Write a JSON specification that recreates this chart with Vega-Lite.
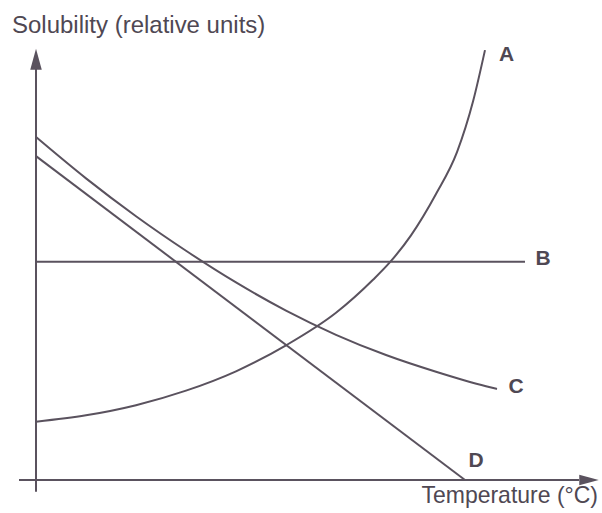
{
  "$schema": "https://vega.github.io/schema/vega-lite/v6.json",
  "autosize": "none",
  "width": 585,
  "height": 453.2,
  "padding": {"left": 16, "top": 40, "right": 1, "bottom": 20},
  "background": "white",
  "config": {"view": {"stroke": null}},
  "datasets": {
    "curves": [
      {"series": "A", "t": 0, "s": 13.25},
      {"series": "A", "t": 10, "s": 14.7},
      {"series": "A", "t": 20, "s": 17.0},
      {"series": "A", "t": 30, "s": 20.3},
      {"series": "A", "t": 40, "s": 24.7},
      {"series": "A", "t": 50, "s": 30.6},
      {"series": "A", "t": 60, "s": 38.0},
      {"series": "A", "t": 67.4, "s": 45.5},
      {"series": "A", "t": 70.8, "s": 49.5},
      {"series": "A", "t": 75, "s": 55.6},
      {"series": "A", "t": 80, "s": 65.0},
      {"series": "A", "t": 84.2, "s": 74.5},
      {"series": "A", "t": 87.4, "s": 86.0},
      {"series": "A", "t": 89.8, "s": 97.7},
      {"series": "B", "t": 0, "s": 49.6},
      {"series": "B", "t": 97.8, "s": 49.6},
      {"series": "C", "t": 0, "s": 77.95},
      {"series": "C", "t": 10, "s": 68.55},
      {"series": "C", "t": 20, "s": 59.95},
      {"series": "C", "t": 30, "s": 52.1},
      {"series": "C", "t": 40, "s": 44.9},
      {"series": "C", "t": 50, "s": 38.5},
      {"series": "C", "t": 60, "s": 33.0},
      {"series": "C", "t": 70, "s": 28.4},
      {"series": "C", "t": 80, "s": 24.6},
      {"series": "C", "t": 90, "s": 21.3},
      {"series": "C", "t": 92.2, "s": 20.7},
      {"series": "D", "t": 0, "s": 73.6},
      {"series": "D", "t": 85.8, "s": 0}
    ],
    "labels": [
      {"label": "A", "t": 94.1, "s": 96.6},
      {"label": "B", "t": 101.4, "s": 50.3},
      {"label": "C", "t": 96.0, "s": 21.1},
      {"label": "D", "t": 88.0, "s": 4.4}
    ],
    "axes": [
      {"name": "x", "t": -3.4, "t2": 108.6, "s": 0, "s2": 0},
      {"name": "y", "t": 0, "t2": 0, "s": -2.7, "s2": 95}
    ],
    "arrows": [
      {"dir": "right", "t": 110.6, "s": 0},
      {"dir": "up", "t": 0, "s": 95.6}
    ],
    "titles": [
      {"title": "Solubility (relative units)", "t": -4.8, "s": 103.2, "side": "y"},
      {"title": "Temperature (°C)", "t": 112.4, "s": -3.6, "side": "x"}
    ]
  },
  "encoding": {
    "x": {"field": "t", "type": "quantitative", "scale": {"domain": [-4, 113], "nice": false, "zero": false}, "axis": null},
    "y": {"field": "s", "type": "quantitative", "scale": {"domain": [-3, 100], "nice": false, "zero": false}, "axis": null}
  },
  "layer": [
    {
      "data": {"name": "axes"},
      "mark": {"type": "rule", "color": "#5a525e", "strokeWidth": 2},
      "encoding": {
        "x2": {"field": "t2"},
        "y2": {"field": "s2"}
      }
    },
    {
      "data": {"name": "arrows"},
      "transform": [{"filter": "datum.dir === 'right'"}],
      "mark": {"type": "point", "shape": "M1,0L-1,-0.55L-1,0.55Z", "filled": true, "color": "#5a525e", "size": 380, "opacity": 1}
    },
    {
      "data": {"name": "arrows"},
      "transform": [{"filter": "datum.dir === 'up'"}],
      "mark": {"type": "point", "shape": "M0,-1L0.55,1L-0.55,1Z", "filled": true, "color": "#5a525e", "size": 440, "opacity": 1}
    },
    {
      "data": {"name": "curves"},
      "mark": {"type": "line", "interpolate": "monotone", "color": "#5a525e", "strokeWidth": 2},
      "encoding": {
        "detail": {"field": "series"},
        "order": {"field": "t", "type": "quantitative"}
      }
    },
    {
      "data": {"name": "labels"},
      "mark": {"type": "text", "font": "Liberation Sans", "fontWeight": "bold", "fontSize": 21, "color": "#4f4853", "align": "center", "baseline": "middle"},
      "encoding": {"text": {"field": "label"}}
    },
    {
      "data": {"name": "titles"},
      "transform": [{"filter": "datum.side === 'y'"}],
      "mark": {"type": "text", "font": "Liberation Sans", "fontSize": 24, "color": "#4f4853", "align": "left", "baseline": "middle"},
      "encoding": {"text": {"field": "title"}}
    },
    {
      "data": {"name": "titles"},
      "transform": [{"filter": "datum.side === 'x'"}],
      "mark": {"type": "text", "font": "Liberation Sans", "fontSize": 23, "color": "#4f4853", "align": "right", "baseline": "middle"},
      "encoding": {"text": {"field": "title"}}
    }
  ]
}
